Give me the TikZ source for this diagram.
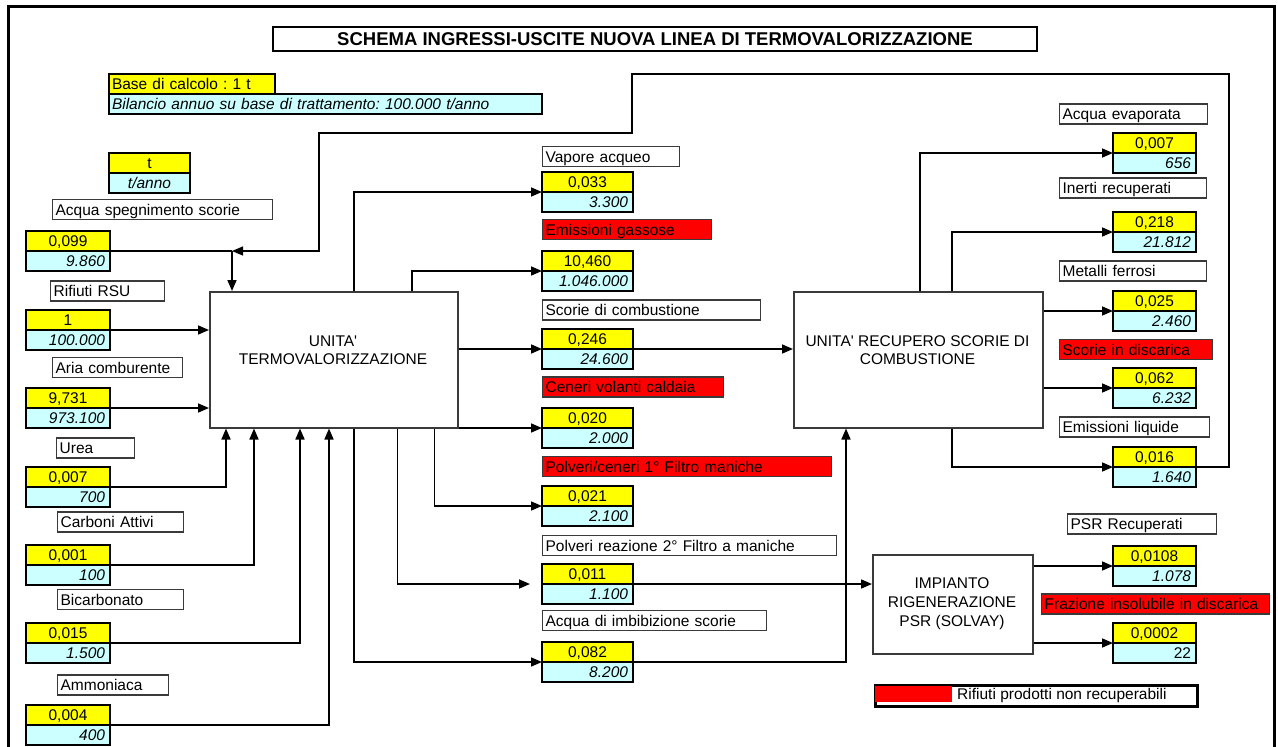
\documentclass[tikz,border=0pt]{standalone}
\usepackage{fontspec}
\setmainfont{Liberation Sans}
\usetikzlibrary{arrows.meta}
\definecolor{yel}{HTML}{FFFF00}
\definecolor{cya}{HTML}{CCFFFF}
\definecolor{rd}{HTML}{FF0000}
\definecolor{edge}{HTML}{3A3A3A}
\frenchspacing
\newcommand\fnt{\fontsize{15.5}{18}\selectfont}
\newcommand\flowbox[6]{%
  \node[ycell, text width=#4pt, anchor=north west] (#1T) at (#2,#3) {#5};
  \node[ccell, text width=#4pt, anchor=north west] (#1B) at (#1T.south west) {#6};}
\newcommand\lbl[6]{%
  \node[#5, text width=#4pt, anchor=west] (#1) at (#2,#3) {#6};}
\begin{document}
\begin{tikzpicture}[x=1pt,y=-1pt,
  base/.style={font=\fnt, text height=12.5pt, text depth=2.5pt, inner ysep=0pt, minimum height=20pt},
  ycell/.style={base, draw, line width=2.4pt, outer sep=0pt, fill=yel, align=center, inner xsep=5pt},
  ccell/.style={base, draw, line width=2.4pt, outer sep=0pt, fill=cya, align=right, inner xsep=5pt, font=\fnt\itshape},
  lab/.style={base, text height=13pt, text depth=2pt, draw=edge, line width=1.3pt, fill=white, align=left, inner xsep=3pt},
  redlab/.style={lab, fill=rd},
  proc/.style={draw=edge, line width=1.5pt, fill=white, inner sep=0pt},
  ptext/.style={align=center, font=\fontsize{15.5}{18}\selectfont, inner sep=0pt},
  conn/.style={line width=1.6pt},
  arr/.style={conn, -{Triangle[length=11pt,width=9pt]}},
  loopline/.style={line width=1.2pt, -{Triangle[length=11pt,width=9pt]}}]
\useasboundingbox (0,0) rectangle (1278,747);
\clip (0,0) rectangle (1278,747);
\draw[line width=3pt] (8,6) rectangle (1274,800);

% title
\node[draw, line width=2pt, minimum width=764pt, minimum height=24pt, inner sep=0pt, anchor=north west,
  font=\bfseries\fontsize{18.5}{20}\selectfont] (title) at (272,26) {SCHEMA INGRESSI-USCITE NUOVA LINEA DI TERMOVALORIZZAZIONE};

% base di calcolo
\node[base, draw, line width=2.4pt, outer sep=0pt, fill=yel, align=left, inner xsep=3pt, text width=160pt, anchor=north west] (basec) at (109,74) {Base di calcolo : 1 t};
\node[base, draw, line width=2.4pt, outer sep=0pt, fill=cya, align=left, inner xsep=3pt, text width=427pt, anchor=north west, font=\fnt\itshape] (bilan) at (basec.south west) {Bilancio annuo su base di trattamento: 100.000 t/anno};

% unit legend
\node[ycell, text width=71pt, anchor=north west] (unitT) at (109,153) {t};
\node[ccell, align=center, text width=71pt, anchor=north west] (unitB) at (unitT.south west) {t/anno};

% process boxes
\node[proc, minimum width=248pt, minimum height=136pt, anchor=north west] (termo) at (209,291) {};
\node[ptext] (termotx) at (333,350.5) {UNITA\textquotesingle\\TERMOVALORIZZAZIONE};
\node[proc, minimum width=249pt, minimum height=136pt, anchor=north west] (rec) at (793,291) {};
\node[ptext] (rectx) at (917.5,350.5) {UNITA\textquotesingle{} RECUPERO SCORIE DI\\COMBUSTIONE};
\node[proc, minimum width=160pt, minimum height=99pt, anchor=north west] (imp) at (872,554) {};
\node[ptext, font=\fontsize{15.5}{19}\selectfont] (imptx) at (952,604) {IMPIANTO\\RIGENERAZIONE\\PSR (SOLVAY)};

% left labels
\lbl{l1}{52}{209.5}{214}{lab}{Acqua spegnimento scorie}
\lbl{l2}{50}{291}{108}{lab}{Rifiuti RSU}
\lbl{l3}{52}{367.5}{124}{lab}{Aria comburente}
\lbl{l4}{56}{448}{72}{lab}{Urea}
\lbl{l5}{57}{522}{120}{lab}{Carboni Attivi}
\lbl{l6}{57}{599.5}{120}{lab}{Bicarbonato}
\lbl{l7}{57}{685}{105}{lab}{Ammoniaca}
% middle labels
\lbl{n1}{542}{156.5}{131}{lab}{Vapore acqueo}
\lbl{n2}{542}{229.5}{163}{redlab}{Emissioni gassose}
\lbl{n3}{542}{310}{212}{lab}{Scorie di combustione}
\lbl{n4}{542}{387}{175}{redlab}{Ceneri volanti caldaia}
\lbl{n5}{542}{466.5}{283}{redlab}{Polveri/ceneri 1° Filtro maniche}
\lbl{n6}{542}{545.5}{288}{lab}{Polveri reazione 2° Filtro a maniche}
\lbl{n7}{542}{620.5}{218}{lab}{Acqua di imbibizione scorie}
% right labels
\lbl{s1}{1059}{114}{142}{lab}{Acqua evaporata}
\lbl{s2}{1059}{188}{141}{lab}{Inerti recuperati}
\lbl{s3}{1059}{271}{141}{lab}{Metalli ferrosi}
\lbl{s4}{1059}{349.5}{147}{redlab}{Scorie in discarica}
\lbl{s5}{1059}{427}{144}{lab}{Emissioni liquide}
\lbl{s6}{1067}{524}{143}{lab}{PSR Recuperati}
\lbl{s7}{1041}{604}{222}{redlab}{Frazione insolubile in discarica}

% value boxes
\flowbox{a1}{26}{231}{74}{0,099}{9.860}
\flowbox{a2}{26}{310}{74}{1}{100.000}
\flowbox{a3}{26}{388}{74}{9,731}{973.100}
\flowbox{a4}{26}{467}{74}{0,007}{700}
\flowbox{a5}{26}{545}{74}{0,001}{100}
\flowbox{a6}{26}{623}{74}{0,015}{1.500}
\flowbox{a7}{26}{705}{74}{0,004}{400}
\flowbox{m1}{542}{172}{81}{0,033}{3.300}
\flowbox{m2}{542}{251}{81}{10,460}{1.046.000}
\flowbox{m3}{542}{329}{81}{0,246}{24.600}
\flowbox{m4}{542}{408}{81}{0,020}{2.000}
\flowbox{m5}{542}{486}{81}{0,021}{2.100}
\flowbox{m6}{542}{564}{81}{0,011}{1.100}
\flowbox{m7}{542}{642}{81}{0,082}{8.200}
\flowbox{r1}{1113}{133}{73}{0,007}{656}
\flowbox{r2}{1113}{212}{73}{0,218}{21.812}
\flowbox{r3}{1113}{291}{73}{0,025}{2.460}
\flowbox{r4}{1113}{368}{73}{0,062}{6.232}
\flowbox{r5}{1113}{447}{73}{0,016}{1.640}
\flowbox{r6}{1113}{546}{73}{0,0108}{1.078}
\flowbox{r7}{1113}{623}{73}{0,0002}{\upshape 22}

% legend
\node[draw, line width=3pt, fill=white, minimum width=322pt, minimum height=21pt, inner sep=0pt, anchor=north west] (leg) at (873.5,683.5) {};
\node[fill=rd, minimum width=77pt, minimum height=16pt, inner sep=0pt, anchor=west] (legsw) at (875,694) {};
\node[font=\fnt, inner sep=0pt, anchor=base west] (legtx) at (957,699) {Rifiuti prodotti non recuperabili};

% coordinates
\coordinate (jn) at (232,251);
\coordinate (lpA) at (1229,74);
\coordinate (lpB) at (632,133);
\coordinate (lpC) at (319,251);

% inputs to termo
\draw[conn] (a1T.south east) -- (jn);
\draw[arr] (jn) -- (jn |- termo.north);
\draw[arr] (a2T.south east) -- (a2T.south east -| termo.west);
\draw[arr] (a3T.south east) -- (a3T.south east -| termo.west);
\draw[arr] (a4T.south east) -| ([xshift=17pt]termo.south west);
\draw[arr] (a5T.south east) -| ([xshift=45pt]termo.south west);
\draw[arr] (a6T.south east) -| ([xshift=91pt]termo.south west);
\draw[arr] (a7T.south east) -| ([xshift=120pt]termo.south west);

% outputs from termo
\draw[arr] ([xshift=145pt]termo.north west) |- (m1T.south west);
\draw[arr] ([xshift=203pt]termo.north west) |- (m2T.south west);
\draw[arr] (termo.east |- m3T.south west) -- (m3T.south west);
\draw[arr] (termo.south east |- m4T.south west) -- (m4T.south west);
\draw[arr] ([xshift=-24pt]termo.south east) |- (m5T.south west);
\draw[arr] ([xshift=-61pt]termo.south east) |- ([xshift=-12pt]m6T.south west);
\draw[arr] ([xshift=145pt]termo.south west) |- (m7T.south west);

% to recupero / impianto
\draw[arr] (m3T.south east) -- (m3T.south east -| rec.west);
\draw[arr] (m6T.south east) -- (m6T.south east -| imp.west);
\draw[arr] (m7T.south east) -| ([xshift=53pt]rec.south west);

% outputs from recupero
\draw[arr] ([xshift=127pt]rec.north west) |- (r1T.south west);
\draw[arr] ([xshift=159pt]rec.north west) |- (r2T.south west);
\draw[arr] (rec.east |- r3T.south west) -- (r3T.south west);
\draw[arr] (rec.east |- r4T.south west) -- (r4T.south west);
\draw[arr] ([xshift=159pt]rec.south west) |- (r5T.south west);

% outputs from impianto
\draw[arr] (imp.east |- r6T.south west) -- (r6T.south west);
\draw[arr] (imp.east |- r7T.south west) -- (r7T.south west);

% recirculation loop
\draw[loopline] (r5T.south east) -| (lpA) -| (lpB) -| (lpC) -- (jn);
\end{tikzpicture}
\end{document}
